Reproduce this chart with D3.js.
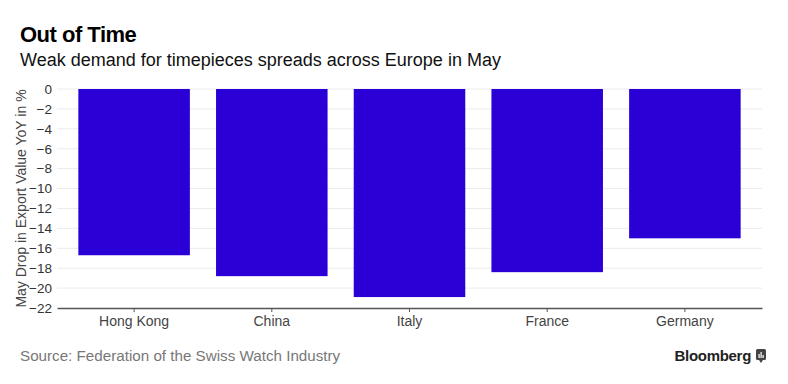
<!DOCTYPE html>
<html>
<head>
<meta charset="utf-8">
<script src="https://cdn.jsdelivr.net/npm/d3@7"></script>
<style>
  body { margin: 0; background: #fff; }
  svg { font-family: "Liberation Sans", Arial, sans-serif; }
</style>
</head>
<body>
<div id="chart"></div>
<script>
// Chart data
const countries = ["Hong Kong", "China", "Italy", "France", "Germany"];
const drops = [-16.7, -18.8, -20.9, -18.4, -15.0];
const yTicks = [0, -2, -4, -6, -8, -10, -12, -14, -16, -18, -20, -22];

const svgWidth = 788;
const svgHeight = 384;

const margin = { top: 89, right: 26, bottom: 76, left: 57 };
const width = svgWidth - margin.left - margin.right;
const height = svgHeight - margin.top - margin.bottom;

const svg = d3.select("#chart")
    .append("svg")
    .attr("width", svgWidth)
    .attr("height", svgHeight);

// Titles
svg.append("text")
    .attr("x", 20).attr("y", 42)
    .attr("font-size", 22).attr("font-weight", "bold")
    .attr("fill", "#000")
    .attr("letter-spacing", -0.5)
    .text("Out of Time");

svg.append("text")
    .attr("x", 20).attr("y", 66)
    .attr("font-size", 18).attr("fill", "#111")
    .text("Weak demand for timepieces spreads across Europe in May");

const chartGroup = svg.append("g")
    .attr("transform", `translate(${margin.left}, ${margin.top})`);

// Scales
const x = d3.scaleBand()
    .domain(countries)
    .range([0, width])
    .paddingInner(0.19)
    .paddingOuter(0.155);

const y = d3.scaleLinear()
    .domain([0, -22])
    .range([0, height]);

// Gridlines
chartGroup.append("g")
    .selectAll("line")
    .data(yTicks.slice(0, -1))
    .enter()
    .append("line")
    .attr("x1", 0).attr("x2", width)
    .attr("y1", d => y(d)).attr("y2", d => y(d))
    .attr("stroke", "#ebebeb")
    .attr("stroke-width", 1);

// Bars
chartGroup.selectAll("rect")
    .data(countries)
    .enter()
    .append("rect")
    .attr("x", d => x(d))
    .attr("y", 0)
    .attr("width", x.bandwidth())
    .attr("height", (d, i) => y(drops[i]) - y(0))
    .attr("fill", "#2a00d6");

// Y axis labels
const leftAxis = d3.axisLeft(y).tickValues(yTicks).tickSize(0).tickPadding(5);
const yAxis = chartGroup.append("g").call(leftAxis);
yAxis.select(".domain").remove();
yAxis.selectAll("text")
    .attr("font-size", 13.5)
    .attr("fill", "#333")
    .attr("font-family", "Liberation Sans, Arial, sans-serif");

// X axis
const bottomAxis = d3.axisBottom(x).tickSizeInner(4).tickSizeOuter(0).tickPadding(4);
const xAxis = chartGroup.append("g")
    .attr("transform", `translate(0, ${height})`)
    .call(bottomAxis);
xAxis.select(".domain").attr("stroke", "#555").attr("stroke-width", 1.3);
xAxis.selectAll("line").attr("stroke", "#555");
xAxis.selectAll("text")
    .attr("font-size", 14)
    .attr("fill", "#444")
    .attr("font-family", "Liberation Sans, Arial, sans-serif");

// Y axis title
svg.append("text")
    .attr("transform", "rotate(-90)")
    .attr("x", -(margin.top + height / 2))
    .attr("y", 26)
    .attr("text-anchor", "middle")
    .attr("font-size", 14)
    .attr("fill", "#444")
    .text("May Drop in Export Value YoY in %");

// Source
svg.append("text")
    .attr("x", 20).attr("y", 361)
    .attr("font-size", 15.2)
    .attr("fill", "#777")
    .text("Source: Federation of the Swiss Watch Industry");

// Bloomberg logo
svg.append("text")
    .attr("x", 751).attr("y", 361)
    .attr("text-anchor", "end")
    .attr("font-size", 15)
    .attr("font-weight", "bold")
    .attr("fill", "#222")
    .attr("letter-spacing", -0.3)
    .text("Bloomberg");

const icon = svg.append("g").attr("transform", "translate(756, 349)");
icon.append("rect")
    .attr("width", 10).attr("height", 11).attr("rx", 1.5)
    .attr("fill", "#444");
icon.append("path")
    .attr("d", "M3,11 L5,14 L7,11 Z")
    .attr("fill", "#444");
[[2.5, 5], [4.5, 3], [6.5, 6]].forEach(([bx, by]) => {
    icon.append("rect")
        .attr("x", bx).attr("y", by)
        .attr("width", 1.2).attr("height", 9 - by)
        .attr("fill", "#fff");
});
</script>
</body>
</html>
